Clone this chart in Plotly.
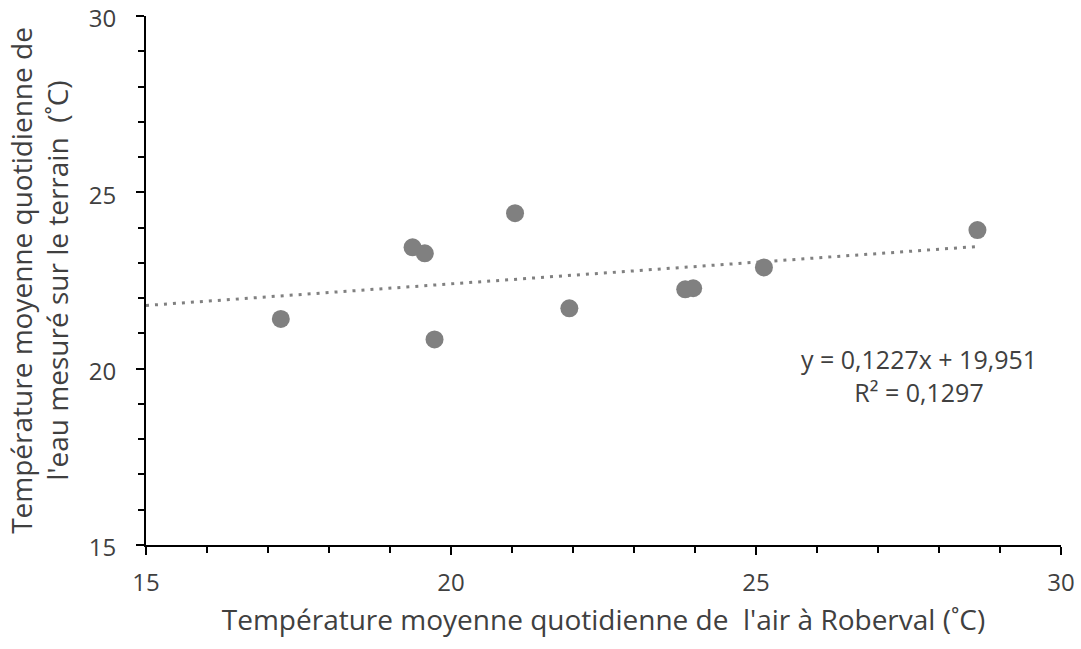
import plotly.graph_objects as go

# Data
air_temp = [17.21, 19.37, 19.57, 19.73, 21.05, 21.94, 23.84, 23.97, 25.13, 28.63]
water_temp = [21.41, 23.44, 23.27, 20.83, 24.41, 21.71, 22.25, 22.28, 22.87, 23.93]

slope = 0.1227
intercept = 19.951
r2_text = "0,1297"
eq_text = "y = 0,1227x + 19,951"

x_range = [15, 30]
y_range = [15, 30]

trend_x = [x_range[0], max(air_temp)]
trend_y = [slope * v + intercept for v in trend_x]

FONT = "Open Sans, Liberation Sans, Arial, sans-serif"
grey = "#808080"
text_col = "#404040"

fig = go.Figure()
fig.add_trace(go.Scatter(
    x=trend_x, y=trend_y, mode="lines",
    line=dict(color=grey, width=3, dash="3px,6px"),
    showlegend=False, hoverinfo="skip"))
fig.add_trace(go.Scatter(
    x=air_temp, y=water_temp, mode="markers",
    marker=dict(color=grey, size=18, line=dict(width=0)),
    showlegend=False))

fig.add_annotation(
    x=27.67, y=19.82, xref="x", yref="y",
    text=eq_text + "<br>R² = " + r2_text,
    showarrow=False, align="center",
    font=dict(family=FONT, size=25, color=text_col))

axis_common = dict(
    showgrid=False, zeroline=False, showline=True, linecolor="black",
    linewidth=2, ticks="outside", ticklen=8, tickwidth=2, tickcolor="black",
    dtick=5, tickfont=dict(family=FONT, size=24, color=text_col),
    minor=dict(ticks="outside", dtick=1, ticklen=6, tickwidth=2, tickcolor="black"),
    automargin=False, ticklabeloverflow="allow",
)

fig.update_xaxes(range=x_range, tick0=15, ticklabelstandoff=7,
                 title=dict(text="Température moyenne quotidienne de  l'air à Roberval (˚C)",
                            font=dict(family=FONT, size=28, color=text_col), standoff=14),
                 **axis_common)
fig.update_yaxes(range=y_range, tick0=15, ticklabelstandoff=15, ticklabelshift=3,
                 title=dict(text="Température moyenne quotidienne de<br>l'eau mesuré sur le terrain  (˚C)",
                            font=dict(family=FONT, size=28, color=text_col), standoff=12),
                 **axis_common)

fig.update_layout(
    width=1081, height=649,
    margin=dict(l=146, r=20, t=16, b=104),
    plot_bgcolor="white", paper_bgcolor="white",
)

fig.write_html("out.html", config={"displayModeBar": False},
               post_script="document.body.style.margin='0';")
